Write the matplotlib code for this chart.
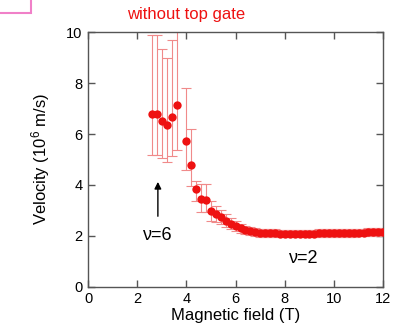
import matplotlib
matplotlib.use("Agg")
import matplotlib.pyplot as plt
from matplotlib.patches import Rectangle

plt.rcParams['font.family'] = ['Liberation Sans', 'DejaVu Sans']
plt.rcParams['mathtext.default'] = 'regular'

field = [2.6, 2.8, 3.0, 3.2, 3.4, 3.6, 4.0, 4.2, 4.4, 4.6, 4.8, 5.0,
         5.2, 5.4, 5.6, 5.8, 6.0, 6.2, 6.4, 6.6, 6.8, 7.0, 7.2, 7.4, 7.6, 7.8,
         8.0, 8.2, 8.4, 8.6, 8.8, 9.0, 9.2, 9.4, 9.6, 9.8, 10.0, 10.2, 10.4,
         10.6, 10.8, 11.0, 11.2, 11.4, 11.6, 11.8, 12.0]
velocity = [6.77, 6.77, 6.51, 6.34, 6.68, 7.15, 5.72, 4.78, 3.85, 3.45, 3.40, 2.97,
            2.86, 2.74, 2.60, 2.47, 2.38, 2.29, 2.23, 2.18, 2.14, 2.12, 2.11, 2.10, 2.10, 2.09,
            2.09, 2.09, 2.09, 2.09, 2.09, 2.09, 2.09, 2.10, 2.10, 2.10, 2.10, 2.11, 2.11,
            2.12, 2.12, 2.13, 2.13, 2.14, 2.15, 2.15, 2.15]
err_up = [3.11, 3.11, 2.85, 2.66, 3.02, 3.20, 2.09, 1.40, 0.30, 0.60, 0.65, 0.40,
          0.30, 0.28, 0.25, 0.22, 0.20, 0.18, 0.17, 0.16, 0.16, 0.15, 0.15, 0.15, 0.15, 0.15,
          0.15, 0.15, 0.15, 0.15, 0.15, 0.15, 0.15, 0.15, 0.15, 0.15, 0.15, 0.15, 0.15,
          0.15, 0.15, 0.15, 0.15, 0.15, 0.15, 0.15, 0.15]
err_down = [1.61, 1.61, 1.44, 1.45, 1.55, 1.78, 1.14, 0.83, 0.50, 0.50, 0.45, 0.40,
            0.30, 0.28, 0.25, 0.22, 0.20, 0.18, 0.17, 0.16, 0.16, 0.15, 0.15, 0.15, 0.15, 0.15,
            0.15, 0.15, 0.15, 0.15, 0.15, 0.15, 0.15, 0.15, 0.15, 0.15, 0.15, 0.15, 0.15,
            0.15, 0.15, 0.15, 0.15, 0.15, 0.15, 0.15, 0.15]
xticks = [0, 2, 4, 6, 8, 10, 12]
yticks = [0, 2, 4, 6, 8, 10]

fig = plt.figure(figsize=(4.05, 3.33), dpi=100)
ax = fig.add_axes([0.2173, 0.139, 0.729, 0.764])

ax.errorbar(field, velocity, yerr=[err_down, err_up], fmt='none',
            ecolor='#f08a8a', elinewidth=0.8, capsize=3.5, capthick=0.8, zorder=2)
ax.plot(field, velocity, 'o', color='#ee1111', markersize=6, zorder=3,
        markeredgewidth=0)

ax.set_xlim(0, 12)
ax.set_ylim(0, 10)
ax.set_xticks(xticks)
ax.set_yticks(yticks)
ax.tick_params(direction='in', top=True, right=True, length=5, width=1,
               color='#555555', labelsize=10.5, pad=4)
for s in ax.spines.values():
    s.set_color('#555555')
    s.set_linewidth(1)

ax.set_xlabel('Magnetic field (T)', fontsize=12, labelpad=1)
ax.set_ylabel('Velocity (10$^{6}$ m/s)', fontsize=12, labelpad=10)

ax.annotate('', xy=(2.84, 4.12), xytext=(2.84, 2.77),
            arrowprops=dict(arrowstyle='-|>', color='black', lw=1,
                            mutation_scale=10, shrinkA=0, shrinkB=0))
ax.text(2.85, 2.0, 'ν=6', fontsize=13, ha='center', va='center')
ax.text(8.75, 1.1, 'ν=2', fontsize=13, ha='center', va='center')

fig.text(186 / 405, 1 - 14 / 333, 'without top gate', color='#ee1111',
         fontsize=12, ha='center', va='center')

fig.patches.append(Rectangle((-5 / 405, 1 - 13 / 333), 36 / 405, 20 / 333,
                             transform=fig.transFigure, fill=False,
                             edgecolor='#f080c8', linewidth=1.5))

fig.savefig('out.png', dpi=100)
